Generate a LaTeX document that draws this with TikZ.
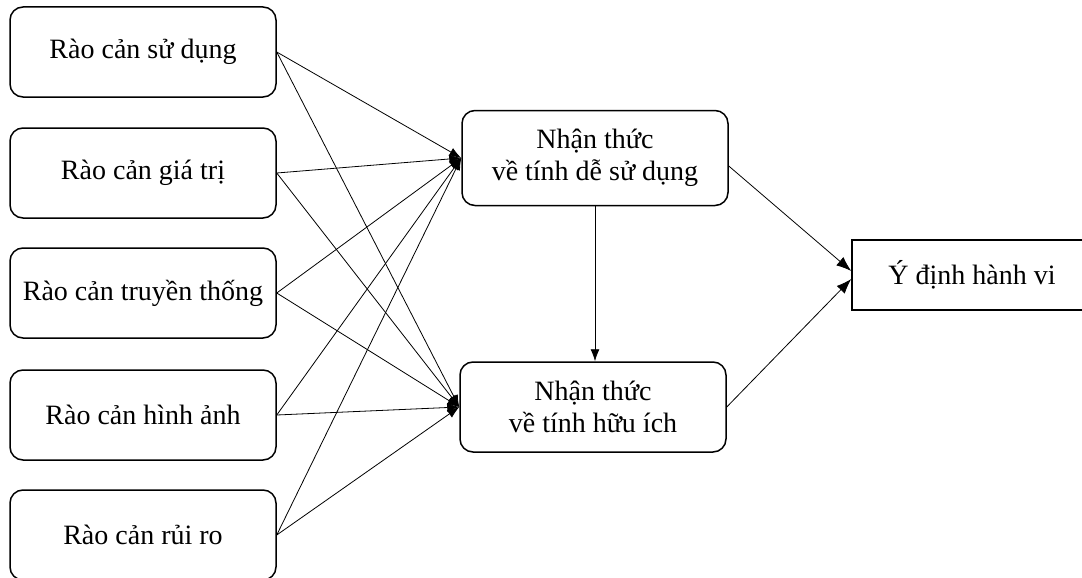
\documentclass[tikz,border=0pt]{standalone}
\usepackage{fontspec}
\setmainfont{Liberation Serif}
\usetikzlibrary{arrows.meta}
\tikzset{
  factor/.style={draw, line width=1.5pt, rounded corners=13pt, minimum width=266pt, minimum height=90pt, align=center, font=\fontsize{28}{32}\selectfont},
  outcome/.style={draw, line width=1.5pt, minimum width=240pt, minimum height=70pt, font=\fontsize{28}{32}\selectfont},
  link/.style={line width=0.8pt, -{Latex[length=12pt,width=9pt]}},
  biglink/.style={line width=0.8pt, -{Latex[length=15pt,width=11pt]}}
}
\begin{document}
\begin{tikzpicture}[x=1pt,y=-1pt]
		\useasboundingbox (0,0) rectangle (1082,578);

		% Barriers
		\node[factor] (use)   at (143,52)  {Rào cản sử dụng};
		\node[factor] (value) at (143,173) {Rào cản giá trị};
		\node[factor] (trad)  at (143,293) {Rào cản truyền thống};
		\node[factor] (image) at (143,415) {Rào cản hình ảnh};
		\node[factor] (risk)  at (143,535) {Rào cản rủi ro};

		% Perceptions
		\node[factor, minimum height=95pt] (ease) at (595,158) {Nhận thức\\về tính dễ sử dụng};
		\node[factor] (useful) at (593,407) {Nhận thức\\về tính hữu ích};

		% Intention
		\node[outcome] (intent) at (972,275) {Ý định hành vi};

		% Links
		\foreach \b in {use,value,trad,image,risk} {
			\draw[link] (\b.east) -- (ease.west);
			\draw[link] (\b.east) -- (useful.west);
		}
		\draw[link] (ease.south) -- (ease.south |- useful.north);
		\draw[biglink] ([yshift=-8pt]ease.east) -- ([yshift=4pt]intent.west);
		\draw[biglink] (useful.east) -- ([yshift=-4pt]intent.west);
	\end{tikzpicture}
\end{document}
